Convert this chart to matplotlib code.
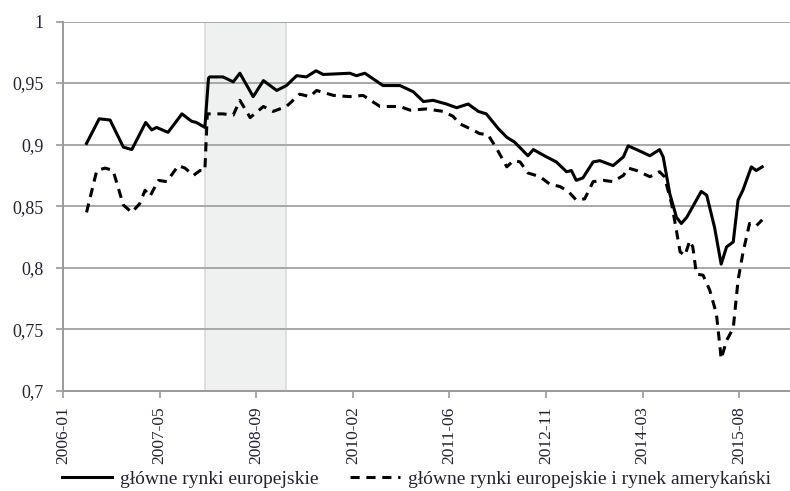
import matplotlib.pyplot as plt
from matplotlib.ticker import FuncFormatter

# months counted from 2006-01
eu_x = [3.9, 6.0, 7.8, 10.0, 11.4, 13.7, 14.7, 15.5, 17.4, 19.7, 21.3, 22.1, 23.5,
        24.1, 24.3, 26.5, 28.2, 29.3, 31.5, 33.2, 35.4, 37.0, 38.7, 40.3, 41.9, 43.1,
        47.5, 48.6, 50.0, 53.0, 55.8, 58.0, 59.7, 61.3, 63.5, 65.2, 67.1, 68.8, 70.1,
        72.1, 73.5, 74.8, 77.0, 77.9, 80.1, 81.7, 83.4, 84.2, 85.0, 86.1, 87.8, 88.9,
        91.1, 92.8, 93.6, 95.0, 97.2, 98.8, 99.4, 100.5, 101.6, 102.4, 103.3, 105.7,
        106.6, 107.9, 109.0, 109.9, 111.0, 111.8, 112.6, 114.0, 114.8, 115.8]
eu_y = [0.901, 0.921, 0.920, 0.898, 0.896, 0.918, 0.912, 0.914, 0.910, 0.925, 0.919, 0.918, 0.914,
        0.954, 0.955, 0.955, 0.951, 0.958, 0.939, 0.952, 0.944, 0.948, 0.956, 0.955, 0.960, 0.957,
        0.958, 0.956, 0.958, 0.948, 0.948, 0.943, 0.935, 0.936, 0.933, 0.930, 0.933, 0.927, 0.925,
        0.913, 0.906, 0.902, 0.891, 0.896, 0.890, 0.886, 0.878, 0.879, 0.871, 0.873, 0.886, 0.887,
        0.883, 0.890, 0.899, 0.896, 0.891, 0.896, 0.890, 0.860, 0.841, 0.836, 0.841, 0.862,
        0.859, 0.833, 0.803, 0.817, 0.821, 0.855, 0.863, 0.882, 0.879, 0.882]

eu_us_x = [3.9, 5.6, 7.0, 8.3, 10.0, 11.4, 12.7, 13.6, 14.4, 15.8, 17.2, 19.1, 20.2, 21.6,
           22.7, 23.5, 23.9, 24.9, 26.5, 28.2, 29.3, 31.0, 33.2, 34.8, 37.0, 39.2, 40.9, 42.0,
           44.8, 47.5, 49.7, 52.5, 55.8, 57.5, 60.2, 63.0, 64.6, 65.7, 67.4, 69.0, 70.4, 71.8,
           73.5, 74.6, 75.7, 77.0, 79.0, 80.6, 82.3, 83.7, 85.0, 86.4, 87.8, 89.5, 91.1, 92.8,
           93.6, 95.0, 97.2, 98.8, 99.6, 100.8, 101.6, 102.2, 103.0, 103.8, 104.3, 104.9, 106.0,
           107.1, 108.2, 108.8, 109.0, 109.9, 111.0, 111.8, 112.6, 113.7, 114.8, 115.8]
eu_us_y = [0.845, 0.879, 0.881, 0.879, 0.851, 0.845, 0.852, 0.863, 0.858, 0.871, 0.870, 0.883, 0.881, 0.875,
           0.879, 0.879, 0.925, 0.925, 0.925, 0.924, 0.936, 0.922, 0.931, 0.927, 0.931, 0.941, 0.939, 0.944,
           0.940, 0.939, 0.940, 0.931, 0.931, 0.928, 0.929, 0.927, 0.923, 0.917, 0.913, 0.909, 0.908, 0.897,
           0.882, 0.887, 0.886, 0.877, 0.874, 0.868, 0.866, 0.862, 0.855, 0.856, 0.870, 0.871, 0.870, 0.875,
           0.881, 0.879, 0.874, 0.878, 0.874, 0.852, 0.830, 0.813, 0.810, 0.822, 0.817, 0.795, 0.794,
           0.782, 0.763, 0.736, 0.726, 0.741, 0.751, 0.790, 0.812, 0.836, 0.834, 0.839]

tick_pos = [0, 16, 32, 48, 64, 80, 96, 112]
tick_labels = ["2006-01", "2007-05", "2008-09", "2010-02", "2011-06", "2012-11", "2014-03", "2015-08"]
crisis = (23.5, 36.9)

plt.rcParams["font.family"] = ["Liberation Serif", "DejaVu Serif"]
txt = "#222233"

fig = plt.figure(figsize=(7.9, 4.91), dpi=100)
ax = fig.add_axes([0.0797, 0.2037, 0.9203, 0.7525])

ax.axvspan(crisis[0], crisis[1], facecolor="#eff0f0", edgecolor="#dadada", lw=1.2, zorder=0)
ax.plot(eu_x, eu_y, color="black", lw=2.2, label="główne rynki europejskie", zorder=3)
ax.plot(eu_us_x, eu_us_y, color="black", lw=2.2, ls=(0, (3, 2.2)),
        label="główne rynki europejskie i rynek amerykański", zorder=3)

ax.set_xlim(0, 120.4)
ax.set_ylim(0.7, 1.0)
ax.set_yticks([0.7, 0.75, 0.8, 0.85, 0.9, 0.95, 1.0])
ax.yaxis.set_major_formatter(FuncFormatter(lambda v, p: ("%g" % round(v, 2)).replace(".", ",")))
ax.set_xticks(tick_pos)
ax.set_xticklabels(tick_labels, rotation=90)

ax.grid(axis="y", color="#a8a8a8", lw=1.4)
ax.set_axisbelow(True)
for s in ["top", "right"]:
    ax.spines[s].set_visible(False)
for s in ["left", "bottom"]:
    ax.spines[s].set_color("#9a9a9a")
    ax.spines[s].set_linewidth(1.4)
ax.tick_params(axis="both", colors="#9a9a9a", length=5, width=1.2, labelsize=12.5, labelcolor=txt)
ax.tick_params(axis="y", pad=9, labelsize=13)
ax.tick_params(axis="x", pad=6)

fig.legend(loc="lower center", bbox_to_anchor=(0.527, -0.03), ncol=2, frameon=False,
           fontsize=14, handlelength=2.6, columnspacing=1.6, handletextpad=0.4,
           labelcolor=txt)

fig.savefig("out.png", dpi=100)
